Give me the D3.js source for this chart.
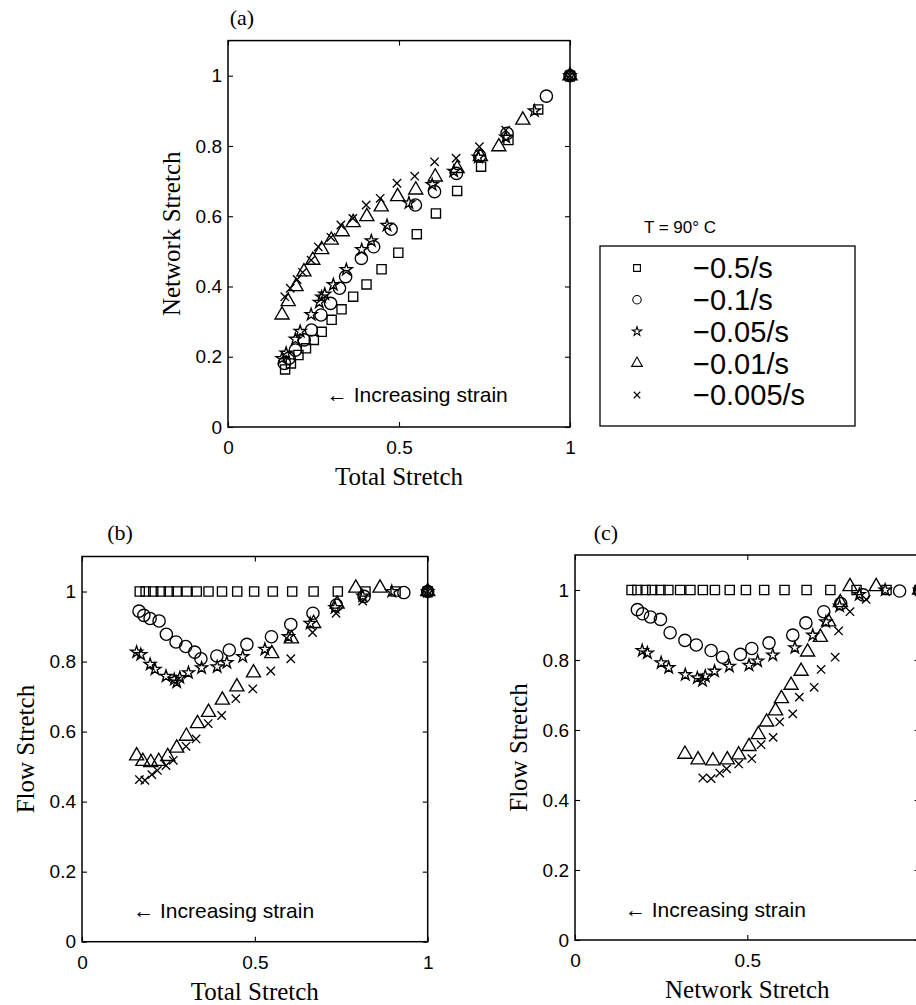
<!DOCTYPE html>
<html>
<head>
<meta charset="utf-8">
<script src="https://cdn.jsdelivr.net/npm/d3@7"></script>
<style>
  body { margin: 0; background: #fff; }
  .tick text { font-family: "Liberation Sans", Arial, sans-serif; font-size: 19px; fill: #000; }
  .tick line { stroke: #000; stroke-width: 1.1; }
</style>
</head>
<body>
<div class="canvas"></div>
<script>
// canvas size
const w = 916;
const h = 1005;

// strain rates (legend order) and marker for each
const rates = ["−0.5/s", "−0.1/s", "−0.05/s", "−0.01/s", "−0.005/s"];
const markerNames = ["square", "circle", "star", "triangle", "times"];

// -0.5/s
const total05 = [0.167, 0.184, 0.206, 0.228, 0.251, 0.274, 0.303, 0.332, 0.366, 0.405, 0.449, 0.498, 0.552, 0.608, 0.670, 0.740, 0.820, 0.907, 1.0];
const network05 = [0.164, 0.181, 0.205, 0.224, 0.248, 0.271, 0.305, 0.335, 0.371, 0.406, 0.449, 0.496, 0.549, 0.608, 0.672, 0.741, 0.817, 0.904, 1.0];
const flow05 = [1, 1, 1, 1, 1, 1, 1, 1, 1, 1, 1, 1, 1, 1, 1, 1, 1, 1, 1];

// -0.1/s
const total01 = [0.165, 0.179, 0.197, 0.223, 0.244, 0.272, 0.300, 0.326, 0.344, 0.390, 0.426, 0.477, 0.548, 0.604, 0.668, 0.736, 0.816, 0.931, 1.0];
const network01 = [0.181, 0.196, 0.219, 0.248, 0.276, 0.319, 0.352, 0.395, 0.428, 0.480, 0.513, 0.563, 0.632, 0.670, 0.722, 0.771, 0.836, 0.942, 1.0];
const flow01 = [0.944, 0.932, 0.923, 0.916, 0.878, 0.856, 0.843, 0.827, 0.808, 0.816, 0.833, 0.849, 0.871, 0.906, 0.938, 0.961, 0.986, 0.997, 1.0];

// -0.05/s
const total005 = [0.158, 0.170, 0.197, 0.211, 0.243, 0.267, 0.274, 0.283, 0.308, 0.346, 0.391, 0.419, 0.465, 0.529, 0.597, 0.660, 0.732, 0.812, 0.896, 1.0];
const network005 = [0.195, 0.210, 0.250, 0.272, 0.320, 0.355, 0.370, 0.378, 0.405, 0.448, 0.505, 0.530, 0.574, 0.638, 0.690, 0.728, 0.768, 0.825, 0.900, 1.0];
const flow005 = [0.827, 0.820, 0.792, 0.778, 0.758, 0.749, 0.741, 0.754, 0.768, 0.782, 0.785, 0.797, 0.814, 0.835, 0.871, 0.909, 0.954, 0.987, 1.0, 1.0];

// -0.01/s
const total001 = [0.158, 0.176, 0.199, 0.222, 0.248, 0.274, 0.302, 0.334, 0.366, 0.406, 0.448, 0.496, 0.549, 0.606, 0.670, 0.738, 0.792, 0.862, 1.0];
const network001 = [0.319, 0.357, 0.400, 0.442, 0.475, 0.505, 0.532, 0.556, 0.582, 0.599, 0.627, 0.656, 0.675, 0.712, 0.736, 0.770, 0.798, 0.874, 1.0];
const flow001 = [0.531, 0.515, 0.512, 0.515, 0.529, 0.553, 0.587, 0.623, 0.655, 0.690, 0.728, 0.768, 0.823, 0.865, 0.909, 0.964, 1.01, 1.01, 1.0];

// -0.005/s
const total0005 = [0.166, 0.182, 0.202, 0.218, 0.243, 0.264, 0.301, 0.330, 0.365, 0.404, 0.445, 0.494, 0.546, 0.604, 0.667, 0.735, 0.812, 1.0];
const network0005 = [0.371, 0.395, 0.420, 0.440, 0.475, 0.513, 0.540, 0.575, 0.594, 0.632, 0.651, 0.694, 0.714, 0.755, 0.765, 0.798, 0.845, 1.0];
const flow0005 = [0.463, 0.461, 0.477, 0.489, 0.503, 0.518, 0.558, 0.579, 0.623, 0.646, 0.694, 0.722, 0.773, 0.808, 0.883, 0.938, 0.973, 1.0];

// tick values
const xTicks = [0, 0.5, 1];
const yTicks = [0, 0.2, 0.4, 0.6, 0.8, 1];

const series = [
  { rate: rates[0], marker: markerNames[0], total: total05, network: network05, flow: flow05 },
  { rate: rates[1], marker: markerNames[1], total: total01, network: network01, flow: flow01 },
  { rate: rates[2], marker: markerNames[2], total: total005, network: network005, flow: flow005 },
  { rate: rates[3], marker: markerNames[3], total: total001, network: network001, flow: flow001 },
  { rate: rates[4], marker: markerNames[4], total: total0005, network: network0005, flow: flow0005 }
];

// x marker (matlab style 'x')
const symbolTimesX = {
  draw(ctx, size) {
    const r = Math.sqrt(size) / 2;
    ctx.moveTo(-r, -r); ctx.lineTo(r, r);
    ctx.moveTo(-r, r); ctx.lineTo(r, -r);
  }
};
const symbolTypes = { square: d3.symbolSquare, circle: d3.symbolCircle, star: d3.symbolStar, triangle: d3.symbolTriangle, times: symbolTimesX };
const plotSizes = { square: 84, circle: 118, star: 44, triangle: 86, times: 70 };
const legendSizes = { square: 46, circle: 56, star: 26, triangle: 50, times: 42 };

// panel layout (pixel frame of each axes)
const panels = [
  { title: "(a)", titleX: 242, titleY: 25, left: 228, right: 570, top: 40.6, bottom: 427,
    xKey: "total", yKey: "network", xLabel: "Total Stretch", yLabel: "Network Stretch", note: [0.289, 0.072] },
  { title: "(b)", titleX: 120, titleY: 540, left: 82, right: 427.7, top: 556.5, bottom: 941.7,
    xKey: "total", yKey: "flow", xLabel: "Total Stretch", yLabel: "Flow Stretch", note: [0.148, 0.068] },
  { title: "(c)", titleX: 606, titleY: 540, left: 575, right: 919.6, top: 555, bottom: 940,
    xKey: "network", yKey: "flow", xLabel: "Network Stretch", yLabel: "Flow Stretch", note: [0.145, 0.067] }
];

const serif = "'Liberation Serif', 'Times New Roman', serif";
const sans = "'Liberation Sans', Arial, sans-serif";

// main svg
const svg = d3.select(".canvas").append("svg").attr("width", w).attr("height", h);
svg.append("rect").attr("width", w).attr("height", h).attr("fill", "#fff");

panels.forEach((p) => {
  const x = d3.scaleLinear().domain([0, 1]).range([p.left, p.right]);
  const y = d3.scaleLinear().domain([0, 1.1]).range([p.bottom, p.top]);
  const graph = svg.append("g");

  // axes, ticks pointing inward on all four sides
  // (panel c runs past the page edge, so its last x label is not shown)
  const fmt = (d) => String(d);
  const xFmt = (d) => (x(d) + 6 > w ? "" : String(d));
  graph.append("g")
    .attr("transform", `translate(0, ${p.bottom})`)
    .call(d3.axisBottom(x).tickValues(xTicks).tickFormat(xFmt).tickSizeInner(-5).tickSizeOuter(0).tickPadding(14))
    .call((g) => g.select(".domain").remove());
  graph.append("g")
    .attr("transform", `translate(${p.left}, 0)`)
    .call(d3.axisLeft(y).tickValues(yTicks).tickFormat(fmt).tickSizeInner(-5).tickSizeOuter(0).tickPadding(6))
    .call((g) => g.select(".domain").remove());
  graph.append("g")
    .attr("transform", `translate(0, ${p.top})`)
    .call(d3.axisTop(x).tickValues(xTicks).tickFormat("").tickSizeInner(-5).tickSizeOuter(0))
    .call((g) => g.select(".domain").remove());
  graph.append("g")
    .attr("transform", `translate(${p.right}, 0)`)
    .call(d3.axisRight(y).tickValues(yTicks).tickFormat("").tickSizeInner(-5).tickSizeOuter(0))
    .call((g) => g.select(".domain").remove());

  // box
  graph.append("rect")
    .attr("x", p.left).attr("y", p.top)
    .attr("width", p.right - p.left).attr("height", p.bottom - p.top)
    .attr("fill", "none").attr("stroke", "#000").attr("stroke-width", 1.5);

  // markers
  series.forEach((s) => {
    const sym = d3.symbol().type(symbolTypes[s.marker]).size(plotSizes[s.marker]);
    graph.append("g")
      .selectAll("path")
      .data(d3.range(s[p.xKey].length))
      .join("path")
      .attr("transform", (i) => `translate(${x(s[p.xKey][i])}, ${y(s[p.yKey][i])})`)
      .attr("d", sym)
      .attr("fill", "none")
      .attr("stroke", "#000")
      .attr("stroke-width", 1.35);
  });

  // annotation
  graph.append("text")
    .attr("x", x(p.note[0])).attr("y", y(p.note[1]))
    .style("font-family", sans).style("font-size", "21px")
    .text("← Increasing strain");

  // labels
  graph.append("text")
    .attr("x", (p.left + p.right) / 2).attr("y", p.bottom + 58)
    .attr("text-anchor", "middle")
    .style("font-family", serif).style("font-size", "25px")
    .text(p.xLabel);
  graph.append("text")
    .attr("transform", `translate(${p.left - 48}, ${(p.top + p.bottom) / 2}) rotate(-90)`)
    .attr("text-anchor", "middle")
    .style("font-family", serif).style("font-size", "25px")
    .text(p.yLabel);
  graph.append("text")
    .attr("x", p.titleX).attr("y", p.titleY)
    .attr("text-anchor", "middle")
    .style("font-family", serif).style("font-size", "22px")
    .text(p.title);
});

// legend
const legendBox = { left: 600, right: 855, top: 246, bottom: 426 };
const legend = svg.append("g").attr("id", "legend");
legend.append("text")
  .attr("x", 680).attr("y", 233)
  .attr("text-anchor", "middle")
  .style("font-family", sans).style("font-size", "17px")
  .text("T = 90° C");
legend.append("rect")
  .attr("x", legendBox.left).attr("y", legendBox.top)
  .attr("width", legendBox.right - legendBox.left).attr("height", legendBox.bottom - legendBox.top)
  .attr("fill", "none").attr("stroke", "#000").attr("stroke-width", 1.3);

const rowY = d3.scalePoint().domain(rates).range([legendBox.top + 22, legendBox.bottom - 31]);
series.forEach((s) => {
  const row = legend.append("g").attr("transform", `translate(0, ${rowY(s.rate)})`);
  row.append("path")
    .attr("transform", "translate(637, 0)")
    .attr("d", d3.symbol().type(symbolTypes[s.marker]).size(legendSizes[s.marker]))
    .attr("fill", "none").attr("stroke", "#000").attr("stroke-width", 1.1);
  row.append("text")
    .attr("x", 693).attr("dy", "0.36em")
    .style("font-family", sans).style("font-size", "29px")
    .text(s.rate);
});
</script>
</body>
</html>
